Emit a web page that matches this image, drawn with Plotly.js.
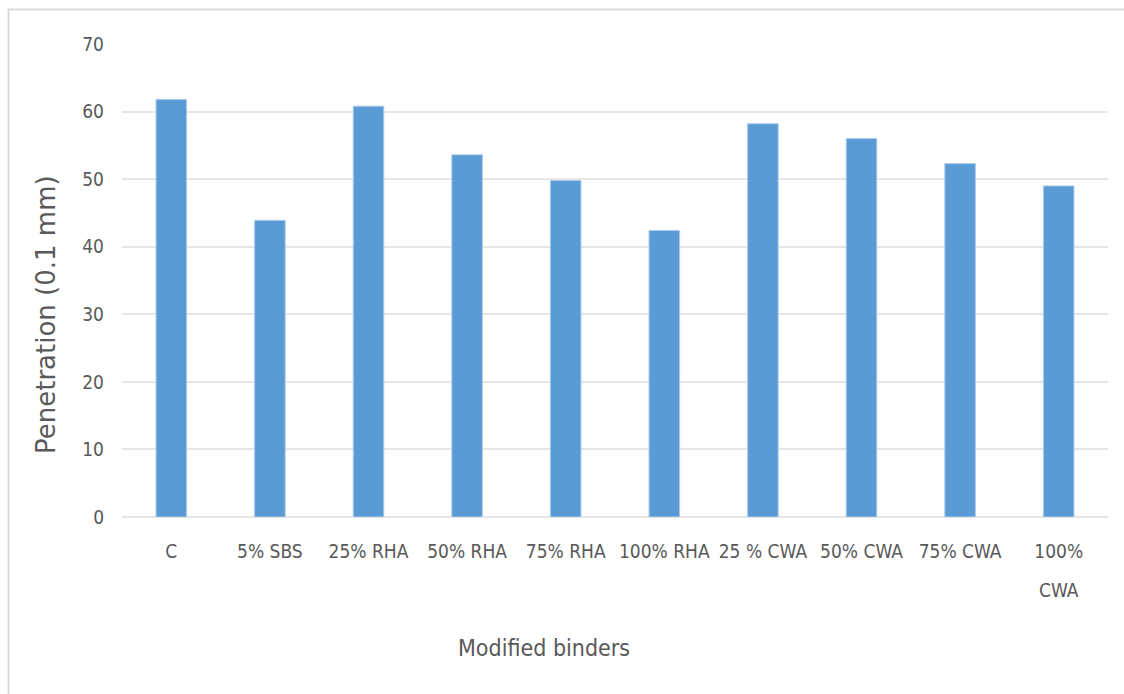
<!DOCTYPE html>
<html>
<head>
<meta charset="utf-8">
<script src="https://cdn.plot.ly/plotly-3.0.1.min.js"></script>
<style>
html,body{margin:0;padding:0;background:#fff;}
#chart{width:1124px;height:694px;}
</style>
</head>
<body>
<div id="chart"></div>
<script>
const categories = ["C","5% SBS","25% RHA","50% RHA","75% RHA","100% RHA","25 % CWA","50% CWA","75% CWA","100% CWA"];
const tickLabelFirstLine = ["C","5% SBS","25% RHA","50% RHA","75% RHA","100% RHA","25 % CWA","50% CWA","75% CWA","100%"];
const tickLabelSecondLine = ["","","","","","","","","","CWA"];
const penetration = [61.8, 43.9, 60.8, 53.6, 49.8, 42.4, 58.2, 56.0, 52.3, 49.0];
const yTickValues = [0,10,20,30,40,50,60,70];
const xTitle = "Modified binders";
const yTitle = "Penetration (0.1 mm)";

const grey = "#595959";
const narrow = "DejaVu Sans Condensed, Liberation Sans Narrow, sans-serif";

const trace = {
  type: "bar",
  x: categories,
  y: penetration,
  marker: {color: "#5b9bd5", line: {color: "#a9cbea", width: 1}},
  hoverinfo: "x+y"
};

const annotations = [
  {text: xTitle, xref: "paper", yref: "paper", x: (543.5-122)/986, y: (517-648)/473,
   showarrow: false, xanchor: "center", yanchor: "middle",
   font: {family: narrow, size: 23, color: grey}},
  {text: yTitle, xref: "paper", yref: "paper", x: (46-122)/986, y: (517-315)/473,
   showarrow: false, xanchor: "center", yanchor: "middle", textangle: -90,
   font: {family: "DejaVu Sans, sans-serif", size: 26, color: grey}}
];
categories.forEach(function(c, i) {
  if (tickLabelSecondLine[i]) {
    annotations.push({text: tickLabelSecondLine[i], xref: "x", yref: "paper", x: c,
      y: (517-590)/473, showarrow: false, xanchor: "center", yanchor: "middle",
      font: {family: narrow, size: 19, color: grey}});
  }
});

const layout = {
  width: 1124,
  height: 694,
  margin: {l: 122, r: 16, t: 44, b: 177, pad: 0},
  paper_bgcolor: "#ffffff",
  plot_bgcolor: "#ffffff",
  bargap: 0.69,
  showlegend: false,
  xaxis: {
    type: "category",
    tickmode: "array",
    tickvals: categories,
    ticktext: tickLabelFirstLine,
    showgrid: false,
    zeroline: false,
    showline: false,
    ticks: "",
    tickangle: 0,
    tickfont: {family: narrow, size: 19, color: grey},
    ticklabelstandoff: 21,
    automargin: false
  },
  yaxis: {
    range: [0, 70],
    tickvals: yTickValues,
    showgrid: true,
    gridcolor: "#e6e6e6",
    gridwidth: 2,
    zeroline: true,
    zerolinecolor: "#e6e6e6",
    zerolinewidth: 2,
    showline: false,
    ticks: "",
    tickfont: {family: narrow, size: 19, color: grey},
    ticklabelstandoff: 17,
    automargin: false
  },
  annotations: annotations,
  shapes: [
    {type: "rect", xref: "paper", yref: "paper",
     x0: (8.5-122)/986, x1: (1140-122)/986, y0: (517-710)/473, y1: (517-9.5)/473,
     line: {color: "#d9d9d9", width: 2}, fillcolor: "rgba(0,0,0,0)", layer: "below"}
  ]
};

Plotly.newPlot("chart", [trace], layout, {displayModeBar: false, staticPlot: true});
</script>
</body>
</html>
